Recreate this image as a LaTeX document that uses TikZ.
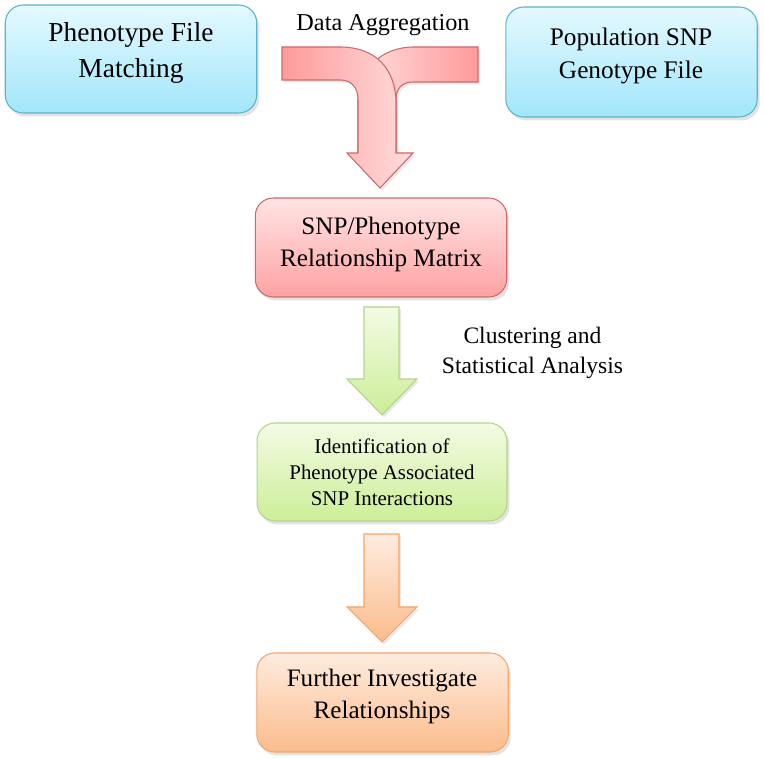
\documentclass[tikz,border=0pt]{standalone}
\usepackage{fontspec}
\setmainfont{Liberation Serif}
\usetikzlibrary{shapes,arrows,shadows,positioning}

\definecolor{blueline}{HTML}{5BB4CC}
\definecolor{bluetop}{HTML}{E4F9FE}
\definecolor{bluebot}{HTML}{A2E6FB}
\definecolor{redline}{HTML}{CC6A6A}
\definecolor{redtop}{HTML}{FFE4E4}
\definecolor{redbot}{HTML}{FFA2A2}
\definecolor{greenline}{HTML}{B3D58A}
\definecolor{greentop}{HTML}{F3FBE4}
\definecolor{greenbot}{HTML}{CCEE98}
\definecolor{orangeline}{HTML}{F6A468}
\definecolor{orangetop}{HTML}{FEECDF}
\definecolor{orangebot}{HTML}{FBBC8C}
\definecolor{pinkdark}{HTML}{FF9A9A}
\definecolor{pinklight}{HTML}{FFDDDD}

\begin{document}
\begin{tikzpicture}[x=0.02cm, y=-0.02cm]
			\tikzstyle{Box}		= [rectangle, rounded corners=0.36cm, line width=0.6pt, minimum width=5.03cm, drop shadow={shadow xshift=0.05cm, shadow yshift=-0.07cm, opacity=0.22}]
			\tikzstyle{Blue}	= [draw=blueline, top color=bluetop, bottom color=bluebot]
			\tikzstyle{Red}		= [draw=redline, top color=redtop, bottom color=redbot]
			\tikzstyle{Green}	= [draw=greenline, top color=greentop, bottom color=greenbot]
			\tikzstyle{Orange}	= [draw=orangeline, top color=orangetop, bottom color=orangebot]
			\tikzstyle{Txt}		= [align=center, inner sep=0pt]
			\tikzstyle{Block}	= [line width=0.6pt, line join=miter, drop shadow={shadow xshift=0.04cm, shadow yshift=-0.05cm, opacity=0.18}]

			\useasboundingbox (0,0) rectangle (764,759);

			% boxes
			\node (pheno) at (131,59) [Box][Blue][minimum height=2.16cm] {};
			\node (geno) at (631.5,62) [Box][Blue][minimum height=2.2cm] {};
			\node (matrix) at (381,247.5) [Box][Red][minimum height=1.98cm] {};
			\node (ident) at (382,472) [Box][Green][minimum width=5cm, minimum height=1.96cm] {};
			\node (further) at (382.5,702.5) [Box][Orange][minimum height=1.98cm] {};

			% texts
			\node (pheno-t) at (131,53) [Txt, font=\fontsize{15.6}{20.5}\selectfont] {Phenotype File\\Matching};
			\node (geno-t) at (631,55.8) [Txt, font=\fontsize{14.4}{18.8}\selectfont] {Population SNP\\Genotype File};
			\node (matrix-t) at (381,244) [Txt, font=\fontsize{14.3}{18.2}\selectfont] {SNP/Phenotype\\Relationship Matrix};
			\node (ident-t) at (382,472) [Txt, font=\fontsize{11.9}{14.8}\selectfont] {Identification of\\Phenotype Associated\\SNP Interactions};
			\node (further-t) at (382,696) [Txt, font=\fontsize{14.3}{18.2}\selectfont] {Further Investigate\\Relationships};
			\node (aggr) at (383,25) [Txt, font=\fontsize{13.8}{17}\selectfont] {Data Aggregation};
			\node (clust) at (532.5,352.6) [Txt, font=\fontsize{13.4}{17}\selectfont] {Clustering and\\Statistical Analysis};

			% merging arrow, right arm behind
			\draw [Block, draw=redline, left color=pinklight, right color=pinkdark]
				(478,47) -- (414,47) .. controls (381,47) and (358,70) .. (358,100) -- (358,153) -- (396,153) -- (396,100)
				.. controls (396,88) and (402,82) .. (414,82) -- (478,82) -- cycle;
			\draw [Block, draw=redline, left color=pinkdark, right color=pinklight]
				(282,47) -- (340,47) .. controls (375,47) and (396,68) .. (396,104) -- (396,153) -- (413,153) -- (380,188)
				-- (347,153) -- (358,153) -- (358,100) .. controls (358,88) and (352,80) .. (340,80) -- (282,80) -- cycle;

			% down arrows
			\draw [Block, draw=greenline, top color=greentop, bottom color=greenbot]
				(364,307) -- (399,307) -- (399,379) -- (417,379) -- (382,415) -- (347,379) -- (364,379) -- cycle;
			\draw [Block, draw=orangeline, top color=orangetop, bottom color=orangebot]
				(364,534) -- (399,534) -- (399,607) -- (417,607) -- (382,642) -- (347,607) -- (364,607) -- cycle;
		\end{tikzpicture}
\end{document}
